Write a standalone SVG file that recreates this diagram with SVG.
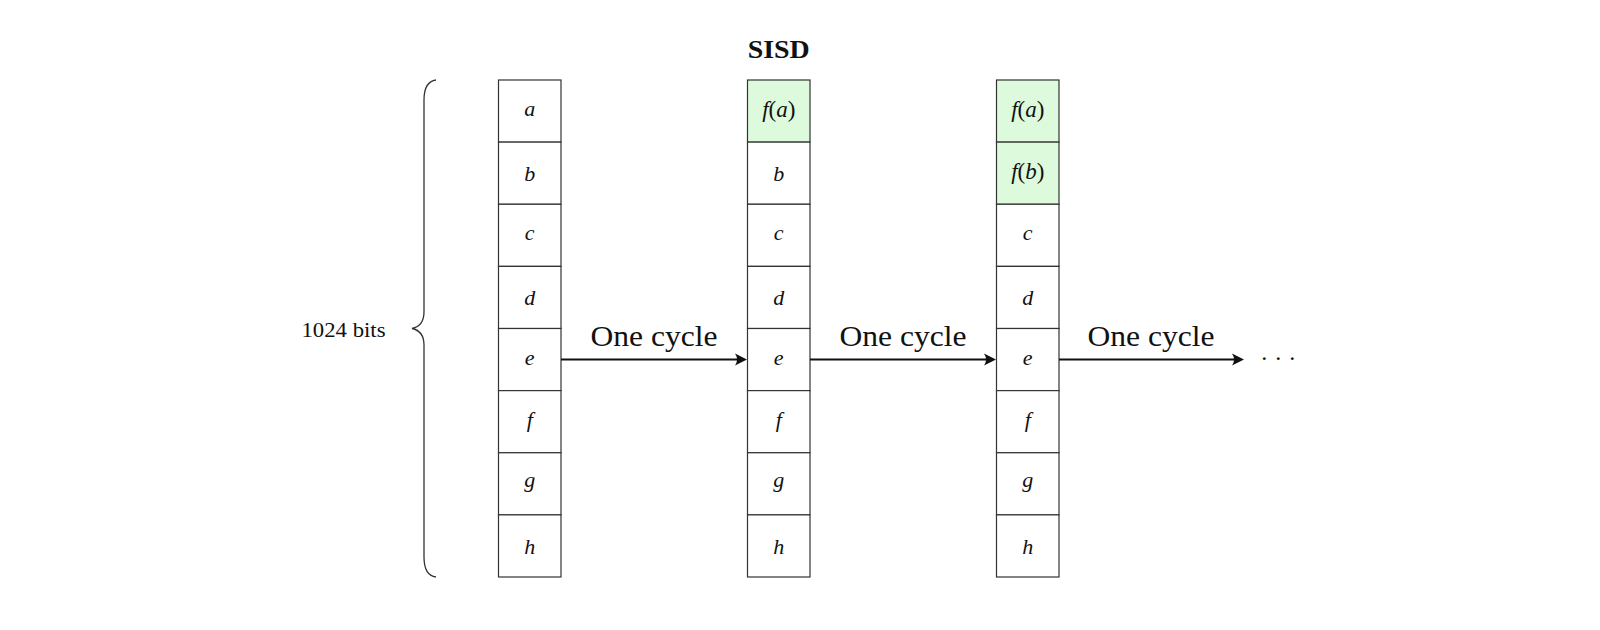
<svg xmlns="http://www.w3.org/2000/svg" width="1600" height="630" viewBox="0 0 1600 630">
<defs>
<style>
.cell{fill:#ffffff;stroke:#333333;stroke-width:1.2}
.done{fill:#ddfadd}
.lbl{font-family:"Liberation Serif",serif;font-style:italic;font-size:22px;fill:#111;text-anchor:middle}
.fx{font-size:23px}
.up{font-style:normal}
.title{font-family:"Liberation Serif",serif;font-weight:bold;font-size:25px;fill:#111;text-anchor:middle}
.cyc{font-family:"Liberation Serif",serif;font-size:30px;fill:#111;text-anchor:middle}
.side{font-family:"Liberation Serif",serif;font-size:22px;fill:#111}
.arr{stroke:#111;stroke-width:1.8;fill:none}
</style>
<marker id="ah" viewBox="-14 -7 16 14" markerWidth="16" markerHeight="14" refX="-3" refY="0" markerUnits="userSpaceOnUse" orient="auto">
<path d="M0,0 L-12,-6 Q-8,0 -12,6 Z" fill="#111"/>
</marker>
</defs>
<rect width="1600" height="630" fill="#ffffff"/>

<text class="title" x="778.75" y="58" textLength="62" lengthAdjust="spacingAndGlyphs">SISD</text>

<g id="brace">
<path d="M436,80 C428,81 424,88 424,100 L424,312 C424,322 419,327 412,328.5 C419,330 424,335 424,345 L424,557 C424,569 428,576 436,577" fill="none" stroke="#333" stroke-width="1.3"/>
<text class="side" x="301.5" y="336.5" textLength="84" lengthAdjust="spacingAndGlyphs">1024 bits</text>
</g>

<g id="col1">
<rect class="cell" x="498.5" y="80" width="62.5" height="62.125"/>
<rect class="cell" x="498.5" y="142.125" width="62.5" height="62.125"/>
<rect class="cell" x="498.5" y="204.25" width="62.5" height="62.125"/>
<rect class="cell" x="498.5" y="266.375" width="62.5" height="62.125"/>
<rect class="cell" x="498.5" y="328.5" width="62.5" height="62.125"/>
<rect class="cell" x="498.5" y="390.625" width="62.5" height="62.125"/>
<rect class="cell" x="498.5" y="452.75" width="62.5" height="62.125"/>
<rect class="cell" x="498.5" y="514.875" width="62.5" height="62.125"/>
<text class="lbl" x="529.75" y="116">a</text>
<text class="lbl" x="529.75" y="180.7">b</text>
<text class="lbl" x="529.75" y="240.3">c</text>
<text class="lbl" x="529.75" y="305">d</text>
<text class="lbl" x="529.75" y="364.6">e</text>
<text class="lbl" x="529.75" y="427">f</text>
<text class="lbl" x="529.75" y="486.6">g</text>
<text class="lbl" x="529.75" y="553.5">h</text>
</g>

<g id="col2">
<rect class="cell done" x="747.5" y="80" width="62.5" height="62.125"/>
<rect class="cell" x="747.5" y="142.125" width="62.5" height="62.125"/>
<rect class="cell" x="747.5" y="204.25" width="62.5" height="62.125"/>
<rect class="cell" x="747.5" y="266.375" width="62.5" height="62.125"/>
<rect class="cell" x="747.5" y="328.5" width="62.5" height="62.125"/>
<rect class="cell" x="747.5" y="390.625" width="62.5" height="62.125"/>
<rect class="cell" x="747.5" y="452.75" width="62.5" height="62.125"/>
<rect class="cell" x="747.5" y="514.875" width="62.5" height="62.125"/>
<text class="lbl fx" x="778.75" y="117">f<tspan class="up">(</tspan>a<tspan class="up">)</tspan></text>
<text class="lbl" x="778.75" y="180.7">b</text>
<text class="lbl" x="778.75" y="240.3">c</text>
<text class="lbl" x="778.75" y="305">d</text>
<text class="lbl" x="778.75" y="364.6">e</text>
<text class="lbl" x="778.75" y="427">f</text>
<text class="lbl" x="778.75" y="486.6">g</text>
<text class="lbl" x="778.75" y="553.5">h</text>
</g>

<g id="col3">
<rect class="cell done" x="996.5" y="80" width="62.5" height="62.125"/>
<rect class="cell done" x="996.5" y="142.125" width="62.5" height="62.125"/>
<rect class="cell" x="996.5" y="204.25" width="62.5" height="62.125"/>
<rect class="cell" x="996.5" y="266.375" width="62.5" height="62.125"/>
<rect class="cell" x="996.5" y="328.5" width="62.5" height="62.125"/>
<rect class="cell" x="996.5" y="390.625" width="62.5" height="62.125"/>
<rect class="cell" x="996.5" y="452.75" width="62.5" height="62.125"/>
<rect class="cell" x="996.5" y="514.875" width="62.5" height="62.125"/>
<text class="lbl fx" x="1027.75" y="117">f<tspan class="up">(</tspan>a<tspan class="up">)</tspan></text>
<text class="lbl fx" x="1027.75" y="179.1">f<tspan class="up">(</tspan>b<tspan class="up">)</tspan></text>
<text class="lbl" x="1027.75" y="240.3">c</text>
<text class="lbl" x="1027.75" y="305">d</text>
<text class="lbl" x="1027.75" y="364.6">e</text>
<text class="lbl" x="1027.75" y="427">f</text>
<text class="lbl" x="1027.75" y="486.6">g</text>
<text class="lbl" x="1027.75" y="553.5">h</text>
</g>

<g id="connectors">
<line class="arr" x1="561" y1="359.5" x2="744" y2="359.5" marker-end="url(#ah)"/>
<line class="arr" x1="810" y1="359.5" x2="993" y2="359.5" marker-end="url(#ah)"/>
<line class="arr" x1="1059" y1="359.5" x2="1241" y2="359.5" marker-end="url(#ah)"/>
<text class="cyc" x="654" y="346" textLength="127" lengthAdjust="spacingAndGlyphs">One cycle</text>
<text class="cyc" x="903" y="346" textLength="127" lengthAdjust="spacingAndGlyphs">One cycle</text>
<text class="cyc" x="1151" y="346" textLength="127" lengthAdjust="spacingAndGlyphs">One cycle</text>
<text class="side" x="1260.3" y="365.5" style="font-size:24px;letter-spacing:6px">···</text>
</g>
</svg>
